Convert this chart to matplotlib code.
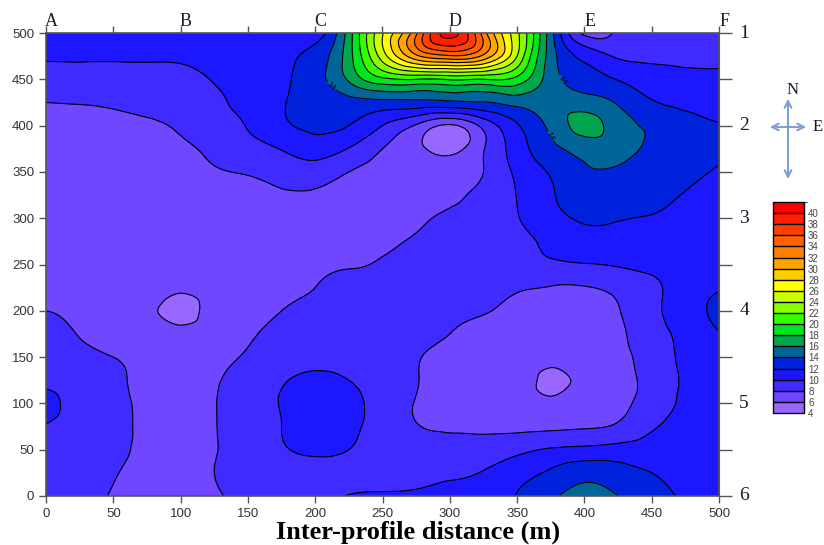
import matplotlib
matplotlib.use("Agg")
import numpy as np
import matplotlib.pyplot as plt
import matplotlib.tri as mtri
from matplotlib.colors import ListedColormap, BoundaryNorm

# grid positions (m)
x_m = np.arange(0, 501, 25)
y_m = np.arange(0, 501, 25)

rows_top_to_bottom = [
    [11.3, 11.3, 11.3, 11.3, 11.3, 11.3, 11.3, 11.3, 11.0, 17.0, 25.8, 33.5, 40.8, 33.0, 24.5, 14.8, 7.5, 8.4, 9.0, 9.2, 9.3],   # 500
    [10.25, 10.25, 10.25, 10.25, 10.3, 10.6, 10.9, 11.5, 12.8, 17.2, 25.0, 31.5, 33.7, 31.5, 24.0, 15.0, 11.4, 9.8, 9.6, 9.5, 9.5],  # 475
    [9.1, 9.25, 9.25, 9.4, 9.5, 10.1, 10.8, 11.7, 13.2, 16.3, 19.5, 20.0, 20.2, 20.0, 19.3, 15.0, 13.0, 11.9, 10.9, 10.6, 10.5],  # 450
    [8.0, 8.1, 8.3, 8.6, 8.9, 9.7, 10.5, 11.8, 13.0, 13.3, 13.4, 13.4, 13.6, 13.9, 14.7, 15.3, 15.0, 13.8, 12.2, 11.6, 11.3],  # 425
    [7.3, 7.3, 7.4, 7.7, 8.3, 9.3, 10.1, 11.6, 12.4, 12.0, 10.0, 7.8, 5.7, 8.6, 11.8, 14.5, 16.6, 15.0, 13.6, 12.6, 12.1],  # 400
    [7.2, 7.1, 7.1, 7.2, 7.6, 8.5, 9.4, 10.1, 11.0, 9.9, 8.0, 6.5, 5.3, 7.9, 11.0, 13.4, 14.8, 14.8, 13.5, 12.8, 12.4],  # 375
    [7.0, 7.0, 7.0, 7.0, 7.1, 7.8, 8.2, 8.9, 9.0, 8.0, 7.4, 6.8, 6.8, 8.0, 10.4, 12.2, 13.7, 13.7, 13.2, 12.5, 11.8],  # 350
    [6.9, 6.9, 6.9, 6.9, 6.9, 7.0, 7.2, 7.7, 7.8, 7.5, 7.2, 7.0, 7.4, 8.7, 10.05, 11.8, 12.8, 13.0, 12.6, 11.9, 11.3],  # 325
    [6.9, 6.9, 6.9, 6.9, 6.9, 6.9, 7.0, 7.2, 7.4, 7.2, 7.0, 7.5, 8.5, 9.0, 9.9, 11.3, 12.2, 12.1, 11.9, 11.5, 11.0],  # 300
    [6.9, 6.9, 6.9, 6.9, 6.9, 6.9, 6.9, 7.0, 7.2, 7.4, 7.7, 8.2, 8.8, 9.2, 9.6, 10.4, 11.3, 11.5, 11.3, 11.0, 10.8],  # 275
    [6.9, 6.9, 6.8, 6.8, 6.8, 6.9, 6.9, 7.2, 7.7, 7.9, 8.1, 8.4, 8.7, 9.0, 9.3, 9.7, 9.9, 10.2, 10.5, 10.6, 11.0],  # 250
    [7.3, 7.0, 6.7, 6.5, 6.3, 6.6, 6.9, 7.4, 8.0, 8.4, 8.6, 8.8, 8.8, 8.6, 8.2, 7.9, 7.9, 8.5, 9.6, 10.8, 11.8],  # 225
    [8.0, 7.5, 6.8, 6.4, 5.5, 6.6, 7.1, 8.0, 8.6, 8.9, 9.0, 8.8, 8.4, 8.1, 7.6, 7.3, 7.3, 7.9, 9.5, 11.0, 12.6],  # 200
    [8.6, 7.9, 7.0, 6.6, 6.5, 6.8, 7.7, 8.6, 9.1, 9.3, 9.2, 8.8, 8.0, 7.5, 7.0, 6.8, 6.8, 7.6, 9.2, 10.5, 11.9],  # 175
    [9.1, 8.6, 8.0, 7.4, 7.0, 7.4, 8.2, 9.0, 9.5, 9.6, 9.4, 8.2, 7.4, 7.0, 6.7, 6.4, 6.5, 7.4, 8.9, 10.4, 11.5],  # 150
    [9.6, 9.2, 8.4, 7.5, 7.2, 7.8, 8.8, 9.8, 10.4, 10.0, 9.3, 8.1, 7.2, 6.8, 6.7, 5.7, 6.4, 7.1, 8.85, 10.2, 11.3],  # 125
    [10.5, 9.4, 8.5, 7.6, 7.2, 7.9, 9.2, 10.1, 11.0, 10.5, 9.3, 7.9, 7.2, 6.9, 6.6, 6.3, 6.6, 7.4, 9.0, 10.3, 11.2],  # 100
    [9.9, 9.2, 8.4, 7.7, 7.2, 7.9, 9.0, 10.0, 11.0, 10.4, 9.3, 8.1, 7.8, 7.6, 7.5, 7.6, 7.8, 8.3, 9.8, 10.4, 11.2],  # 75
    [9.6, 9.0, 8.3, 7.7, 7.3, 7.9, 8.8, 9.8, 10.3, 10.0, 9.4, 8.8, 8.6, 8.9, 9.5, 10.2, 10.5, 10.75, 10.8, 10.8, 11.1],  # 50
    [9.2, 8.8, 8.1, 7.6, 7.4, 8.0, 8.7, 9.2, 9.5, 9.6, 9.5, 9.5, 9.7, 10.1, 11.2, 12.3, 13.3, 12.8, 12.0, 11.3, 11.1],  # 25
    [9.0, 8.5, 7.9, 7.5, 7.4, 7.8, 8.5, 9.0, 9.5, 10.05, 10.15, 10.2, 10.4, 10.8, 12.1, 13.7, 14.6, 14.0, 12.7, 11.8, 11.3],  # 0
]

levels = np.arange(4, 43, 2)
band_colors = [
    "#9966FF", "#6E47FF", "#3F2BFF", "#1C17FF", "#0022DD", "#00669A",
    "#00A550", "#00E61E", "#33FF00", "#88FF00", "#CCFF00", "#FFFF00",
    "#FFCC00", "#FFA500", "#FF8000", "#FF6000", "#FF4000", "#FF2000", "#FF0000",
]
label_level = 14
label_spots = [(214, 446), (388, 453), (375, 389)]
top_letters = ["A", "B", "C", "D", "E", "F"]
top_letter_pos = [0, 100, 200, 300, 400, 500]
right_numbers = ["1", "2", "3", "4", "5", "6"]
right_number_pos = [500, 400, 300, 200, 100, 0]

plt.rcParams["font.family"] = ["Liberation Sans", "DejaVu Sans"]

Z = np.array(rows_top_to_bottom[::-1])
X, Y = np.meshgrid(x_m, y_m)

fig = plt.figure(figsize=(8.24, 5.45), dpi=100)
ax = fig.add_axes([46 / 824, 49 / 545, 673 / 824, 463 / 545])

tri = mtri.Triangulation(X.ravel(), Y.ravel())
refiner = mtri.UniformTriRefiner(tri)
tri_r, z_r = refiner.refine_field(Z.ravel(), subdiv=3)
z_r = np.clip(z_r, levels[0] + 0.01, levels[-1] - 0.01)

cmap = ListedColormap(band_colors)
norm = BoundaryNorm(levels, cmap.N)
cf = ax.tricontourf(tri_r, z_r, levels=levels, cmap=cmap, norm=norm)
other_levels = [lv for lv in levels if lv != label_level]
ax.tricontour(tri_r, z_r, levels=other_levels, colors="black", linewidths=0.8)
cl14 = ax.tricontour(tri_r, z_r, levels=[label_level], colors="black", linewidths=0.8)
try:
    ax.clabel(cl14, manual=label_spots, fmt="%d", fontsize=6, inline=True,
              inline_spacing=1)
except Exception:
    pass

ax.set_xlim(0, 500)
ax.set_ylim(0, 500)
ax.set_xticks(np.arange(0, 501, 50))
ax.set_yticks(np.arange(0, 501, 50))
ax.tick_params(direction="out", length=5, width=1, color="#555555",
               labelsize=9.5, labelcolor="#333333")
for s in ax.spines.values():
    s.set_color("#555555")
    s.set_linewidth(1.2)

# top axis letters
axt = ax.secondary_xaxis("top")
axt.set_xticks(np.arange(0, 501, 50))
axt.set_xticklabels(["" for _ in range(11)])
axt.tick_params(direction="out", length=5, width=1, color="#555555")
axt.spines["top"].set_color("#555555")
for lab, xp in zip(top_letters, top_letter_pos):
    ax.text(xp + 4, 503, lab, ha="center", va="bottom", fontsize=13,
            family="Liberation Serif", color="#1a1a2e", clip_on=False)

# right axis numbers
axr = ax.secondary_yaxis("right")
axr.set_yticks(np.arange(0, 501, 50))
axr.set_yticklabels(["" for _ in range(11)])
axr.tick_params(direction="out", length=9, width=1, color="#555555")
axr.spines["right"].set_color("#555555")
for lab, yp in zip(right_numbers, right_number_pos):
    ax.text(515, yp, lab, ha="left", va="center", fontsize=14,
            family="Liberation Serif", color="#1a1a2e", clip_on=False)

fig.text(418 / 824, 1 - 539 / 545, "Inter-profile distance (m)", ha="center",
         va="baseline", fontsize=19, fontweight="bold", family="Liberation Serif")

# colour bar
cax = fig.add_axes([773 / 824, 1 - 413 / 545, 31 / 824, 211 / 545])
cb = fig.colorbar(cf, cax=cax, ticks=levels[:-1], drawedges=True)
cb.ax.tick_params(length=0, labelsize=7, labelcolor="#444444", pad=3)
cb.outline.set_edgecolor("black")
cb.outline.set_linewidth(1)
cb.dividers.set_color("black")
cb.dividers.set_linewidth(1)

# north arrow
arrow_col = "#7f9fcf"
ax.annotate("", xy=(788, 545 - 96), xytext=(788, 545 - 182), xycoords="figure pixels",
            textcoords="figure pixels",
            arrowprops=dict(arrowstyle="<->", color=arrow_col, lw=1.5, mutation_scale=12),
            annotation_clip=False)
ax.annotate("", xy=(809, 545 - 127), xytext=(767, 545 - 127), xycoords="figure pixels",
            textcoords="figure pixels",
            arrowprops=dict(arrowstyle="<->", color=arrow_col, lw=1.5, mutation_scale=12),
            annotation_clip=False)
fig.text(793 / 824, 1 - 90 / 545, "N", ha="center", va="center", fontsize=12,
         family="Liberation Serif", color="#1a1a2e")
fig.text(818 / 824, 1 - 127 / 545, "E", ha="center", va="center", fontsize=12,
         family="Liberation Serif", color="#1a1a2e")

fig.savefig("out.png", dpi=100)
